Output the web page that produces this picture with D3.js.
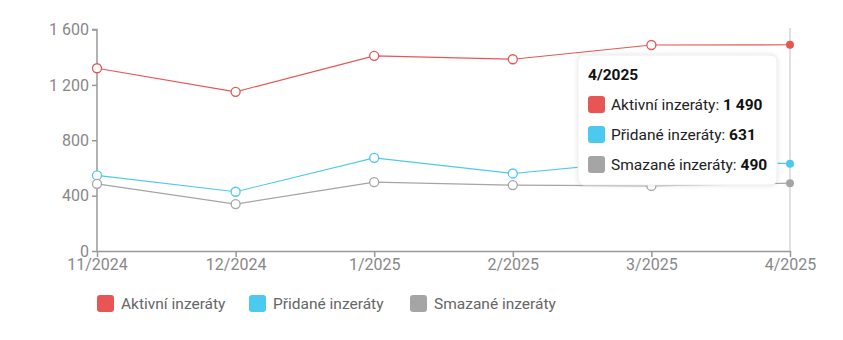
<!DOCTYPE html>
<html><head><meta charset="utf-8">
<script src="https://cdn.jsdelivr.net/npm/d3@7"></script>
<style>
html,body{margin:0;padding:0;background:#fff;}
svg{display:block;font-family:Roboto,"Open Sans",sans-serif;}
</style></head>
<body>
<svg id="chart" width="843" height="340"></svg>
<script>
const categories = ["11/2024","12/2024","1/2025","2/2025","3/2025","4/2025"];
const aktivni = [1320, 1150, 1410, 1385, 1488, 1490];
const pridane = [546, 428, 673, 560, 655, 631];
const smazane = [485, 339, 497, 476, 470, 490];
const seriesNames = ["Aktivní inzeráty","Přidané inzeráty","Smazané inzeráty"];
const seriesColors = ["#e85555","#4cc9ef","#a5a5a5"];
const yTicks = [0, 400, 800, 1200, 1600];
const hoverIndex = 5;

const series = [aktivni, pridane, smazane].map((v,i)=>({name:seriesNames[i], color:seriesColors[i], values:v}));

const svg = d3.select("#chart");
const x = d3.scalePoint().domain(categories).range([97, 790]);
const y = d3.scaleLinear().domain([0,1600]).range([251, 29.5]);
const loc = d3.formatLocale({decimal:",", thousands:"\u00a0", grouping:[3], currency:["","Kč"]});
const fmt = loc.format(",d");

// crosshair
svg.append("line").attr("x1",x(categories[hoverIndex])).attr("x2",x(categories[hoverIndex]))
  .attr("y1",28).attr("y2",251).attr("stroke","#cfcfcf").attr("stroke-width",1.3);

// axes
const gy = svg.append("g").attr("transform","translate(97,0)")
  .call(d3.axisLeft(y).tickValues(yTicks).tickFormat(fmt).tickSize(5).tickPadding(3));
const gx = svg.append("g").attr("transform","translate(0,251)")
  .call(d3.axisBottom(x).tickSize(6).tickSizeOuter(0).tickPadding(2));
[gy,gx].forEach(g=>{
  g.selectAll("path,line").attr("stroke","#999").attr("stroke-width",1.5);
  g.selectAll("text").attr("fill","#888").style("font-size","16px").style("font-family","Roboto");
});
gy.select(".domain").attr("d","M-5,29.5H0V251");

// lines
const line = d3.line().x((d,i)=>x(categories[i])).y(d=>y(d));
series.forEach(s=>{
  svg.append("path").attr("d",line(s.values)).attr("fill","none").attr("stroke",s.color).attr("stroke-width",1.2);
});
series.forEach(s=>{
  svg.selectAll(null).data(s.values).enter().append("circle")
    .attr("cx",(d,i)=>x(categories[i])).attr("cy",d=>y(d))
    .attr("r",(d,i)=>i===hoverIndex?4:4.5)
    .attr("fill",(d,i)=>i===hoverIndex?s.color:"#fff")
    .attr("stroke",s.color).attr("stroke-width",(d,i)=>i===hoverIndex?0:1.3);
});

// tooltip
const defs = svg.append("defs");
const f = defs.append("filter").attr("id","sh").attr("x","-20%").attr("y","-20%").attr("width","140%").attr("height","140%");
f.append("feDropShadow").attr("dx",0).attr("dy",0).attr("stdDeviation",2).attr("flood-color","#000").attr("flood-opacity",0.12);
const tt = svg.append("g").attr("transform","translate(578,55)");
tt.append("rect").attr("width",199).attr("height",130).attr("rx",6).attr("fill","#fff")
  .attr("stroke","#ececec").attr("filter","url(#sh)");
tt.append("text").attr("x",10).attr("y",25).text(categories[hoverIndex])
  .style("font-size","15.5px").style("font-weight","bold").attr("fill","#111");
series.forEach((s,i)=>{
  const row = tt.append("g").attr("transform",`translate(10,${41+i*30})`);
  row.append("rect").attr("width",17).attr("height",17).attr("rx",3).attr("fill",s.color);
  const t = row.append("text").attr("x",23).attr("y",14).style("font-size","15.5px").attr("fill","#222");
  t.append("tspan").text(s.name+": ");
  t.append("tspan").style("font-weight","bold").attr("fill","#111").text(fmt(s.values[hoverIndex]));
});

// legend
const lg = svg.append("g").attr("transform","translate(97,295)");
const legX = [0, 152, 313];
series.forEach((s,i)=>{
  const g = lg.append("g").attr("transform",`translate(${legX[i]},0)`);
  g.append("rect").attr("width",17).attr("height",17).attr("rx",3).attr("fill",s.color);
  g.append("text").attr("x",24).attr("y",14).text(s.name).style("font-size","15.5px").attr("fill","#666");
});
</script>
</body></html>
